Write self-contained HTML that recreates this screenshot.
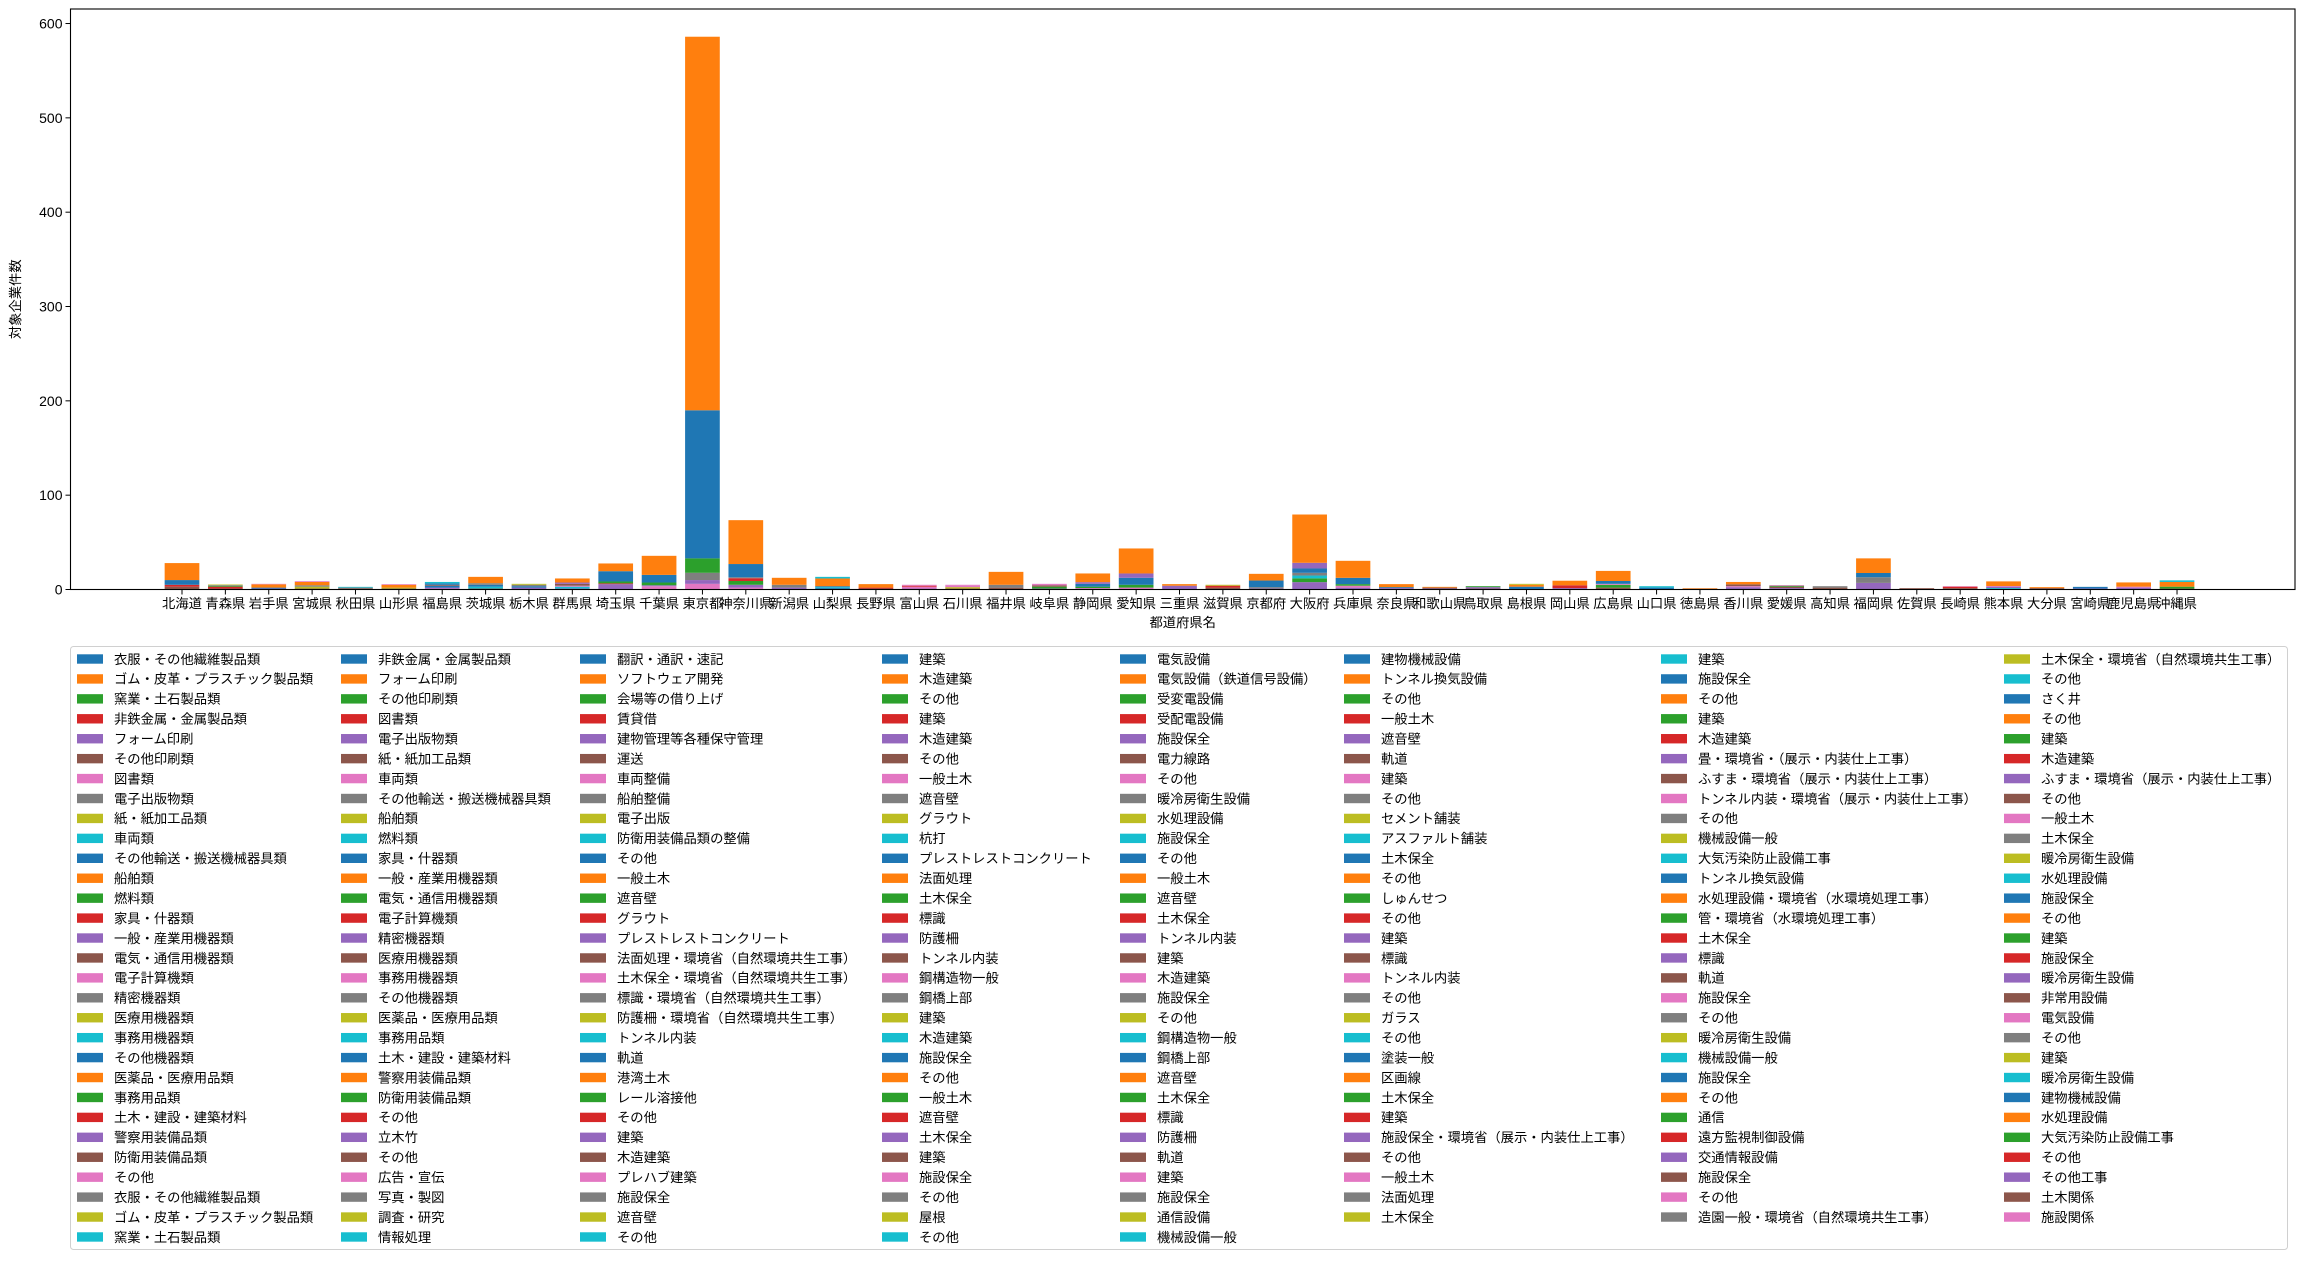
<!DOCTYPE html>
<html><head><meta charset="utf-8">
<style>
html,body{margin:0;padding:0;background:#fff;}
svg{display:block;}
text{font-family:"Liberation Sans","Noto Sans CJK JP",sans-serif;fill:#000;}
</style></head>
<body>
<svg id="chart" width="2305" height="1261" viewBox="0 0 2305 1261" xmlns="http://www.w3.org/2000/svg"></svg>
<script>
const categories=["北海道","青森県","岩手県","宮城県","秋田県","山形県","福島県","茨城県","栃木県","群馬県","埼玉県","千葉県","東京都","神奈川県","新潟県","山梨県","長野県","富山県","石川県","福井県","岐阜県","静岡県","愛知県","三重県","滋賀県","京都府","大阪府","兵庫県","奈良県","和歌山県","鳥取県","島根県","岡山県","広島県","山口県","徳島県","香川県","愛媛県","高知県","福岡県","佐賀県","長崎県","熊本県","大分県","宮崎県","鹿児島県","沖縄県"];
// series color index (tab10) per stacked segment, bottom to top
const segSeries=[[5,3,0,1],[5,3,2,7,8],[4,0,1,6],[5,8,7,1,6],[5,7,9],[5,8,1,6],[6,4,0,5,0,9],[5,9,0,7,1],[4,0,7,8],[4,9,6,5,4,1],
[4,3,2,0,1],[6,4,2,0,1],[6,4,7,2,0,1],[6,4,2,3,7,0,1],[4,7,1],[0,9,0,1,9],[5,3,1],[4,6,3,6],[5,8,6,6],[5,7,1],
[4,2,5,6],[6,2,0,4,1],[6,2,0,4,1],[4,1],[5,3,8],[4,7,0,1],[4,2,9,7,0,4,1],[4,6,2,0,1],[4,0,1],[4,5,1],
[5,4,2],[0,1,8],[4,3,1],[5,2,6,0,1],[0,9],[5,1],[4,6,5,1],[4,5,2,6],[5,7],[4,7,0,1],
[5],[5,3,6],[9,4,6,1],[5,1],[4,0],[4,6,1],[5,2,1,9]];
const segValues=[[3,2,5,18],[1,2,1,0.7,0.6],[1,1,3.5,0.5],[1,2,1.5,3.5,0.8],[1,1,0.8],[1,1,3,0.7],[1,1,2,1,1.5,1.5],[1,2,2,1.7,6.7],[2,1.5,1.5,1],[1,2,1,2,1.4,4.3],
[5.7,0.8,2,10.9,8.2],[3.5,1,2.9,8.1,20.2],[6,4,7.7,15.3,157,396],[2,3,4,3,1,14,46.5],[2,3,7.4],[1.5,1,1,8.2,1.7],[1,1,3.7],[1,2,1,1],[1,1.5,1.5,1],[2,3,13.7],
[1,2,1.5,1.5],[1.5,1.5,3,1.8,9.2],[2,3,7.4,4.6,26.5],[4,1.7],[2,2,1],[1,1.5,7,7.1],[7.8,4,3,2.9,4.6,6,51.2],[2,2,1.7,6.7,18],[1.5,1,3.2],[1,1,0.8],
[1,1.5,1],[3,2,1],[1.5,3,4.8],[2,3,1,3,10.7],[2,1.5],[0.8,0.6],[2.5,1,2,2.5],[1.5,1.5,1,0.7],[2,1.5],[7,6,4.5,15.5],
[1.4],[1.5,1.5,0.5],[1.5,1.5,0.7,4.9],[1.5,1],[1,1.8],[2,1,4.5],[1,2,5,1.7]];
const yTicks=[0,100,200,300,400,500,600];
const legendCols=[
["衣服・その他繊維製品類","ゴム・皮革・プラスチック製品類","窯業・土石製品類","非鉄金属・金属製品類","フォーム印刷","その他印刷類","図書類","電子出版物類","紙・紙加工品類","車両類","その他輸送・搬送機械器具類","船舶類","燃料類","家具・什器類","一般・産業用機器類","電気・通信用機器類","電子計算機類","精密機器類","医療用機器類","事務用機器類","その他機器類","医薬品・医療用品類","事務用品類","土木・建設・建築材料","警察用装備品類","防衛用装備品類","その他","衣服・その他繊維製品類","ゴム・皮革・プラスチック製品類","窯業・土石製品類"],
["非鉄金属・金属製品類","フォーム印刷","その他印刷類","図書類","電子出版物類","紙・紙加工品類","車両類","その他輸送・搬送機械器具類","船舶類","燃料類","家具・什器類","一般・産業用機器類","電気・通信用機器類","電子計算機類","精密機器類","医療用機器類","事務用機器類","その他機器類","医薬品・医療用品類","事務用品類","土木・建設・建築材料","警察用装備品類","防衛用装備品類","その他","立木竹","その他","広告・宣伝","写真・製図","調査・研究","情報処理"],
["翻訳・通訳・速記","ソフトウェア開発","会場等の借り上げ","賃貸借","建物管理等各種保守管理","運送","車両整備","船舶整備","電子出版","防衛用装備品類の整備","その他","一般土木","遮音壁","グラウト","プレストレストコンクリート","法面処理・環境省（自然環境共生工事）","土木保全・環境省（自然環境共生工事）","標識・環境省（自然環境共生工事）","防護柵・環境省（自然環境共生工事）","トンネル内装","軌道","港湾土木","レール溶接他","その他","建築","木造建築","プレハブ建築","施設保全","遮音壁","その他"],
["建築","木造建築","その他","建築","木造建築","その他","一般土木","遮音壁","グラウト","杭打","プレストレストコンクリート","法面処理","土木保全","標識","防護柵","トンネル内装","鋼構造物一般","鋼橋上部","建築","木造建築","施設保全","その他","一般土木","遮音壁","土木保全","建築","施設保全","その他","屋根","その他"],
["電気設備","電気設備（鉄道信号設備）","受変電設備","受配電設備","施設保全","電力線路","その他","暖冷房衛生設備","水処理設備","施設保全","その他","一般土木","遮音壁","土木保全","トンネル内装","建築","木造建築","施設保全","その他","鋼構造物一般","鋼橋上部","遮音壁","土木保全","標識","防護柵","軌道","建築","施設保全","通信設備","機械設備一般"],
["建物機械設備","トンネル換気設備","その他","一般土木","遮音壁","軌道","建築","その他","セメント舗装","アスファルト舗装","土木保全","その他","しゅんせつ","その他","建築","標識","トンネル内装","その他","ガラス","その他","塗装一般","区画線","土木保全","建築","施設保全・環境省（展示・内装仕上工事）","その他","一般土木","法面処理","土木保全"],
["建築","施設保全","その他","建築","木造建築","畳・環境省・（展示・内装仕上工事）","ふすま・環境省（展示・内装仕上工事）","トンネル内装・環境省（展示・内装仕上工事）","その他","機械設備一般","大気汚染防止設備工事","トンネル換気設備","水処理設備・環境省（水環境処理工事）","管・環境省（水環境処理工事）","土木保全","標識","軌道","施設保全","その他","暖冷房衛生設備","機械設備一般","施設保全","その他","通信","遠方監視制御設備","交通情報設備","施設保全","その他","造園一般・環境省（自然環境共生工事）"],
["土木保全・環境省（自然環境共生工事）","その他","さく井","その他","建築","木造建築","ふすま・環境省（展示・内装仕上工事）","その他","一般土木","土木保全","暖冷房衛生設備","水処理設備","施設保全","その他","建築","施設保全","暖冷房衛生設備","非常用設備","電気設備","その他","建築","暖冷房衛生設備","建物機械設備","水処理設備","大気汚染防止設備工事","その他","その他工事","土木関係","施設関係"]];

const tab10=["#1f77b4","#ff7f0e","#2ca02c","#d62728","#9467bd","#8c564b","#e377c2","#7f7f7f","#bcbd22","#17becf"];
const NS="http://www.w3.org/2000/svg";
const svg=document.getElementById("chart");
const AX={l:70.5,r:2295,t:9,b:589.5};
const ymax=(AX.b-AX.t)/0.9433;
function yS(v){return AX.b-v*(AX.b-AX.t)/ymax;}
const step=43.37, x0=182;
function xS(i){return x0+i*step;}
function mk(tag,attrs,parent){const e=document.createElementNS(NS,tag);for(const k in attrs)e.setAttribute(k,attrs[k]);(parent||svg).appendChild(e);return e;}

// bars
const barsG=mk("g",{});


const bw=step*0.8;
categories.forEach((c,i)=>{
  let acc=0;
  segValues[i].forEach((v,j)=>{
    const r=mk("rect",{x:xS(i)-bw/2,y:yS(acc+v),width:bw,height:yS(acc)-yS(acc+v),fill:tab10[segSeries[i][j]]},barsG);
    
    
    acc+=v;
  });
});

// axes frame
const frame=mk("rect",{x:AX.l,y:AX.t,width:AX.r-AX.l,height:AX.b-AX.t,fill:"none",stroke:"#000","stroke-width":1.1});



// y ticks
yTicks.forEach(t=>{
  const y=yS(t);
  const tk=mk("line",{x1:AX.l-5,x2:AX.l,y1:y,y2:y,stroke:"#000","stroke-width":1});
  
  
  const lb=mk("text",{x:AX.l-8,y:y+5,"text-anchor":"end","font-size":14});
  lb.textContent=t;
  
  
});
// x ticks
categories.forEach((c,i)=>{
  const x=xS(i);
  const tk=mk("line",{x1:x,x2:x,y1:AX.b,y2:AX.b+5,stroke:"#000","stroke-width":1});
  
  
  const lb=mk("text",{x:x,y:608,"text-anchor":"middle","font-size":13.3});
  lb.textContent=c;
  
  
});
const xt=mk("text",{x:(AX.l+AX.r)/2,y:627,"text-anchor":"middle","font-size":13.3});
xt.textContent="都道府県名";


const yt=mk("text",{x:0,y:0,"text-anchor":"middle","font-size":13.3,transform:"translate(20,"+((AX.t+AX.b)/2)+") rotate(-90)"});
yt.textContent="対象企業件数";



// legend
const lg=mk("g",{});


const lbox=mk("rect",{x:70.5,y:646.5,width:2217,height:603,rx:3,fill:"#fff",stroke:"#d0d0d0","stroke-width":1},lg);


const colX=[77,341,580,882,1120,1344,1661,2004];
let idx=0;
legendCols.forEach((col,ci)=>{
  col.forEach((lab,ri)=>{
    const cy=659+ri*19.93;
    const p=mk("rect",{x:colX[ci],y:cy-4.7,width:26,height:9.4,fill:tab10[idx%10]},lg);
    
    
    const t=mk("text",{x:colX[ci]+37,y:cy+4.8,"font-size":13.3},lg);
    t.textContent=lab;
    
    
    idx++;
  });
});
</script>
</body></html>
